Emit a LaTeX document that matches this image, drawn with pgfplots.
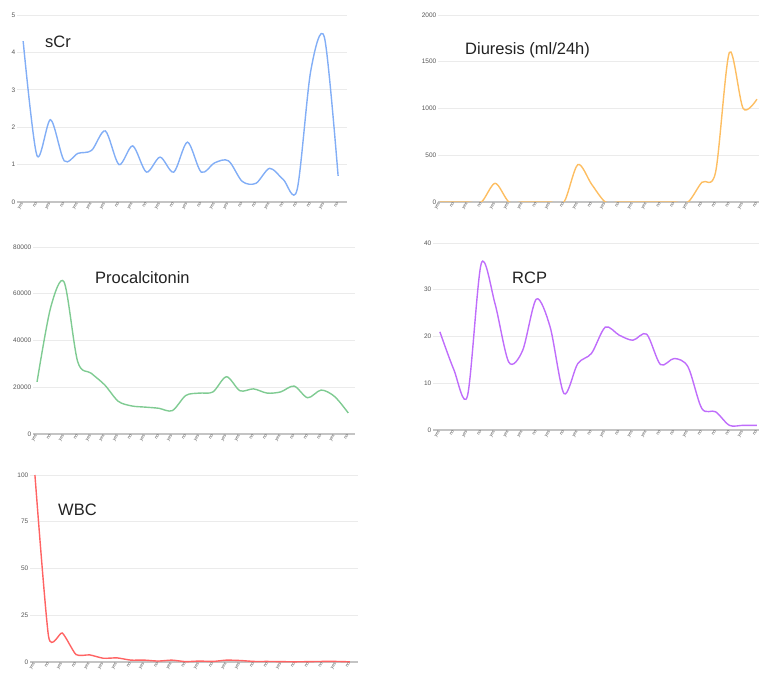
\documentclass[border=0pt]{standalone}
\usepackage{fontspec}
\setmainfont{Liberation Sans}
\usepackage{pgfplots}
\pgfplotsset{compat=1.18}
\definecolor{gridc}{HTML}{EBEBEB}
\definecolor{basec}{HTML}{C4C4C4}
\definecolor{labc}{HTML}{555555}
\definecolor{titc}{HTML}{222222}
\definecolor{cblue}{HTML}{82AEF6}
\definecolor{corange}{HTML}{FDBE62}
\definecolor{cgreen}{HTML}{7FCB92}
\definecolor{cpurple}{HTML}{BF6DFB}
\definecolor{cred}{HTML}{FF6363}
\pgfplotsset{
  panel/.style={
    scale only axis, height=187pt, ymin=0,
    axis x line=bottom, axis y line=left,
    y axis line style={draw=none},
    x axis line style={-, draw=basec, line width=1.3pt},
    major tick length=0pt,
    ymajorgrids, grid style={gridc, line width=0.8pt},
    xtick={0,...,23},
    xticklabels={yes,no,yes,no,yes,yes,yes,no,yes,no,yes,no,yes,no,yes,yes,no,no,yes,no,no,no,yes,no},
    x tick label style={rotate=60, anchor=east, font=\fontsize{4.5}{5}\selectfont, text=labc, inner sep=1pt},
    y tick label style={font=\fontsize{6.5}{7}\selectfont, text=labc, inner sep=1.5pt},
    /pgf/number format/assume math mode=true,
    /pgf/number format/fixed, /pgf/number format/1000 sep={},
    scaled y ticks=false,
  },
  curve/.style={smooth, tension=0.5, line width=1.4pt, no markers},
}
\begin{document}
\begin{tikzpicture}
\path[use as bounding box] (0,0) rectangle (759pt,677pt);
% sCr
\begin{axis}[panel, at={(17pt,475pt)}, anchor=south west, width=330pt,
  xmin=-0.45, xmax=23.65, ymax=5, ytick={0,1,2,3,4,5}]
\addplot[curve, cblue] coordinates {(0,4.3) (1,1.25) (2,2.2) (3,1.1) (4,1.3) (5,1.38) (6,1.9) (7,1.0) (8,1.5) (9,0.8) (10,1.2) (11,0.8) (12,1.6) (13,0.8) (14,1.05) (15,1.1) (16,0.55) (17,0.5) (18,0.9) (19,0.6) (20,0.32) (21,3.5) (22,4.4) (23,0.7)};
\end{axis}
% Diuresis
\begin{axis}[panel, at={(438pt,475pt)}, anchor=south west, width=321pt,
  xmin=-0.15, xmax=23.15, ymax=2000, ytick={0,500,1000,1500,2000}]
\addplot[curve, corange] coordinates {(0,0) (1,0) (2,0) (3,0) (4,200) (5,0) (6,0) (7,0) (8,0) (9,0) (10,400) (11,190) (12,0) (13,0) (14,0) (15,0) (16,0) (17,0) (18,0) (19,210) (20,320) (21,1600) (22,1000) (23,1100)};
\end{axis}
% Procalcitonin
\begin{axis}[panel, at={(33pt,243pt)}, anchor=south west, width=322pt,
  xmin=-0.3, xmax=23.5, ymax=80000, ytick={0,20000,40000,60000,80000}]
\addplot[curve, cgreen] coordinates {(0,22300) (1,54000) (2,65000) (3,31000) (4,26000) (5,21000) (6,14000) (7,12000) (8,11500) (9,11000) (10,10000) (11,16500) (12,17500) (13,18000) (14,24500) (15,18500) (16,19300) (17,17500) (18,18000) (19,20500) (20,15500) (21,18800) (22,16000) (23,9000)};
\end{axis}
% RCP
\begin{axis}[panel, at={(433pt,247pt)}, anchor=south west, width=326pt,
  xmin=-0.5, xmax=23.15, ymax=40, ytick={0,10,20,30,40}]
\addplot[curve, cpurple] coordinates {(0,21) (1,13) (2,7.3) (3,35.6) (4,27) (5,14.5) (6,17) (7,28) (8,22) (9,7.8) (10,14.2) (11,16.4) (12,22) (13,20.3) (14,19.2) (15,20.5) (16,14) (17,15.3) (18,13.5) (19,4.6) (20,3.9) (21,1) (22,1) (23,1)};
\end{axis}
% WBC
\begin{axis}[panel, at={(30pt,15pt)}, anchor=south west, width=328pt,
  xmin=-0.36, xmax=23.6, ymax=100, ytick={0,25,50,75,100}, clip=false]
\addplot[curve, tension=0.35, cred] coordinates {(0,100) (1,13.5) (2,15.5) (3,4) (4,3.8) (5,2) (6,2.2) (7,1) (8,1) (9,0.5) (10,1) (11,0.2) (12,0.5) (13,0.3) (14,1) (15,0.8) (16,0.3) (17,0.3) (18,0.2) (19,0.1) (20,0.2) (21,0.3) (22,0.3) (23,0.1)};
\end{axis}
\begin{scope}[every node/.style={anchor=west, text=titc, font=\fontsize{16.5}{18}\selectfont, inner sep=0pt}]
\node at (45pt,635pt) {sCr};
\node at (465pt,627pt) {Diuresis (ml/24h)};
\node at (95pt,399pt) {Procalcitonin};
\node at (512pt,399pt) {RCP};
\node at (58pt,167pt) {WBC};
\end{scope}
\end{tikzpicture}
\end{document}
